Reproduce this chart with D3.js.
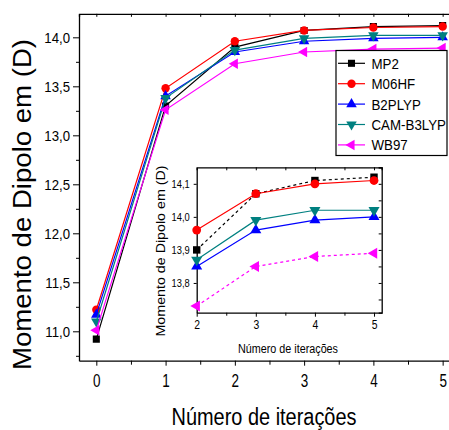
<!DOCTYPE html>
<html>
<head>
<meta charset="utf-8">
<script src="https://cdn.jsdelivr.net/npm/d3@7"></script>
<style>
  body { margin: 0; background: #fff; }
  svg { display: block; font-family: "Liberation Sans", Arial, sans-serif; }
  .domain { stroke: #000; stroke-width: 1.3; }
  .tick line { stroke: #000; stroke-width: 1; }
</style>
</head>
<body>
<div id="chart"></div>
<script>
// data
let iterations = [0, 1, 2, 3, 4, 5];
let insetIterations = [2, 3, 4, 5];
let series_names = ["MP2", "M06HF", "B2PLYP", "CAM-B3LYP", "WB97"];
let mp2 = [10.92, 13.30, 13.90, 14.07, 14.11, 14.12];
let m06hf = [11.22, 13.48, 13.96, 14.07, 14.10, 14.11];
let b2plyp = [11.17, 13.40, 13.85, 13.96, 13.99, 14.00];
let camb3lyp = [11.10, 13.38, 13.87, 13.99, 14.02, 14.02];
let wb97 = [11.01, 13.26, 13.73, 13.85, 13.88, 13.89];
let mainYTicks = [11.0, 11.5, 12.0, 12.5, 13.0, 13.5, 14.0];
let insetYTicks = [13.8, 13.9, 14.0, 14.1];

let colors = ["#000000", "#ff0000", "#0000ff", "#008080", "#ff00ff"];
let shapes = ["square", "circle", "up", "down", "left"];
let insetDash = [true, false, false, false, true];
let all_values = [mp2, m06hf, b2plyp, camb3lyp, wb97];

function comma(d) { return d3.format(".1f")(d).replace(".", ","); }

/* the original font is a narrow one, so squeeze text horizontally */
function squeeze(sel, k) {
    sel.each(function() {
        let t = d3.select(this);
        let xx = +t.attr("x") || 0;
        t.attr("transform", "scale(" + k + ",1)").attr("x", xx / k);
    });
}

function marker(sel, shape, color, k) {
    let s = k || 1;
    let type = shape === "square" ? d3.symbolSquare : shape === "circle" ? d3.symbolCircle : d3.symbolTriangle;
    let size = shape === "square" ? 50 * s : shape === "circle" ? 55 * s : 48 * s;
    let rot = shape === "down" ? 180 : shape === "left" ? -90 : 0;
    sel.append("path")
        .attr("d", d3.symbol().type(type).size(size)())
        .attr("transform", "rotate(" + rot + ")")
        .attr("fill", color);
}

let svg = d3.select("#chart").append("svg").attr("width", 449).attr("height", 430);

/* main plot scales */
let x = d3.scaleLinear().domain([-0.25, 5.2]).range([79, 456.5]);
let y = d3.scaleLinear().domain([10.7, 14.24]).range([360.7, 13.8]);

svg.append("clipPath").attr("id", "clipMain").append("rect")
    .attr("x", 79).attr("y", 13.8).attr("width", 380).attr("height", 347);

// top border with inward ticks
svg.append("g").attr("transform", "translate(0," + y.range()[1] + ")")
    .call(d3.axisTop(x).tickValues(d3.range(0, 5.01, 0.5)).tickSize(-3).tickFormat(""));

// bottom axis
let xAxis = svg.append("g").attr("transform", "translate(0," + y.range()[0] + ")")
    .call(d3.axisBottom(x).tickValues(iterations).tickSize(5).tickPadding(9).tickSizeOuter(0).tickFormat(d3.format("d")));
xAxis.selectAll("text").attr("font-size", 18).attr("fill", "#000").call(squeeze, 0.75);
svg.append("g").attr("transform", "translate(0," + y.range()[0] + ")")
    .call(d3.axisBottom(x).tickValues(d3.range(0.5, 5, 1)).tickSize(4).tickFormat(""))
    .select(".domain").remove();

// left axis
let yAxis = svg.append("g").attr("transform", "translate(" + x.range()[0] + ",0)")
    .call(d3.axisLeft(y).tickValues(mainYTicks).tickSize(6).tickPadding(3).tickFormat(comma).tickSizeOuter(0));
yAxis.selectAll("text").attr("font-size", 15).attr("fill", "#000").call(squeeze, 0.88);
svg.append("g").attr("transform", "translate(" + x.range()[0] + ",0)")
    .call(d3.axisLeft(y).tickValues(d3.range(10.75, 14.2, 0.5)).tickSize(3).tickFormat(""))
    .select(".domain").remove();

// main lines
let main = svg.append("g").attr("clip-path", "url(#clipMain)");
let line = d3.line().x(function(d) { return x(d.it); }).y(function(d) { return y(d.v); });
all_values.forEach(function(vals, i) {
    let pts = vals.map(function(v, j) { return {it: iterations[j], v: v}; });
    main.append("path").datum(pts).attr("d", line)
        .attr("fill", "none").attr("stroke", colors[i]).attr("stroke-width", 1.2);
    main.selectAll(".m" + i).data(pts).enter().append("g")
        .attr("class", "m" + i)
        .attr("transform", function(d) { return "translate(" + x(d.it) + "," + y(d.v) + ")"; })
        .each(function() { marker(d3.select(this), shapes[i], colors[i]); });
});

// axis titles
svg.append("text")
    .attr("transform", "translate(31,204.5) rotate(-90)")
    .attr("text-anchor", "middle").attr("font-size", 25)
    .attr("textLength", 331).attr("lengthAdjust", "spacingAndGlyphs")
    .text("Momento de Dipolo em (D)");
svg.append("text")
    .attr("x", 264).attr("y", 425)
    .attr("text-anchor", "middle").attr("font-size", 23)
    .attr("textLength", 185).attr("lengthAdjust", "spacingAndGlyphs")
    .text("Número de iterações");

/* legend */
let legend = svg.append("g");
legend.append("rect").attr("x", 336).attr("y", 50.5).attr("width", 111).attr("height", 105)
    .attr("fill", "#fff").attr("stroke", "#000").attr("stroke-width", 1.2);
series_names.forEach(function(name, i) {
    let ly = 63.3 + i * 20.4;
    legend.append("line").attr("x1", 338).attr("x2", 365).attr("y1", ly).attr("y2", ly)
        .attr("stroke", colors[i]).attr("stroke-width", 1.2);
    let g = legend.append("g").attr("transform", "translate(351.5," + ly + ")");
    marker(g, shapes[i], colors[i]);
    legend.append("text").attr("x", 371.5).attr("y", ly + 5.5)
        .attr("font-size", 15.5).text(name).call(squeeze, 0.86);
});

/* inset */
let xi = d3.scaleLinear().domain([2, 5.13]).range([196.7, 381.7]);
let yi = d3.scaleLinear().domain([13.71, 14.15]).range([312.7, 167.3]);

svg.append("rect").attr("x", 196.7).attr("y", 167.3).attr("width", 185).attr("height", 145.4)
    .attr("fill", "#fff");
svg.append("clipPath").attr("id", "clipInset").append("rect")
    .attr("x", 190).attr("y", 160).attr("width", 196).attr("height", 160);

// inset axes
svg.append("g").attr("transform", "translate(0,167.3)")
    .call(d3.axisTop(xi).tickValues(d3.range(2.5, 5.1, 0.5)).tickSize(-3).tickFormat(""));
svg.append("g").attr("transform", "translate(381.7,0)")
    .call(d3.axisRight(yi).tickValues(d3.range(13.75, 14.151, 0.05)).tickSize(-3).tickFormat(""));
let xiAxis = svg.append("g").attr("transform", "translate(0,312.7)")
    .call(d3.axisBottom(xi).tickValues(insetIterations).tickSize(4).tickPadding(3).tickSizeOuter(0).tickFormat(d3.format("d")));
xiAxis.selectAll("text").attr("font-size", 13).attr("fill", "#000").call(squeeze, 0.8);
svg.append("g").attr("transform", "translate(0,312.7)")
    .call(d3.axisBottom(xi).tickValues([2.5, 3.5, 4.5]).tickSize(3).tickFormat(""))
    .select(".domain").remove();
let yiAxis = svg.append("g").attr("transform", "translate(196.7,0)")
    .call(d3.axisLeft(yi).tickValues(insetYTicks).tickSize(3).tickPadding(4).tickFormat(comma).tickSizeOuter(0));
yiAxis.selectAll("text").attr("font-size", 11).attr("fill", "#000").call(squeeze, 0.85);

let inset = svg.append("g").attr("clip-path", "url(#clipInset)");
let iline = d3.line().x(function(d) { return xi(d.it); }).y(function(d) { return yi(d.v); });
all_values.forEach(function(vals, i) {
    let pts = vals.slice(2).map(function(v, j) { return {it: insetIterations[j], v: v}; });
    inset.append("path").datum(pts).attr("d", iline)
        .attr("fill", "none").attr("stroke", colors[i]).attr("stroke-width", 1.2)
        .attr("stroke-dasharray", insetDash[i] ? "3,3" : null);
    inset.selectAll(".im" + i).data(pts).enter().append("g")
        .attr("class", "im" + i)
        .attr("transform", function(d) { return "translate(" + xi(d.it) + "," + yi(d.v) + ")"; })
        .each(function() { marker(d3.select(this), shapes[i], colors[i], 1.1); });
});

svg.append("text")
    .attr("transform", "translate(165,251) rotate(-90)")
    .attr("text-anchor", "middle").attr("font-size", 12.5)
    .attr("textLength", 171).attr("lengthAdjust", "spacingAndGlyphs")
    .text("Momento de Dipolo em (D)");
svg.append("text")
    .attr("x", 288).attr("y", 353)
    .attr("text-anchor", "middle").attr("font-size", 12.5)
    .attr("textLength", 100).attr("lengthAdjust", "spacingAndGlyphs")
    .text("Número de iterações");
</script>
</body>
</html>
